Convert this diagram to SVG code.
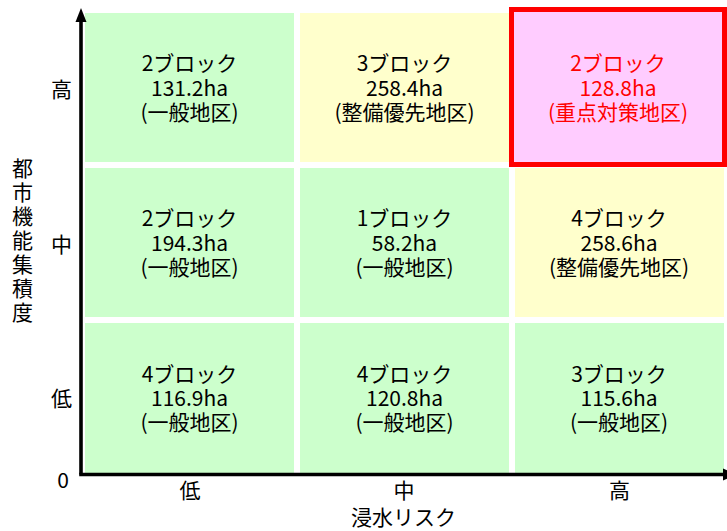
<svg xmlns="http://www.w3.org/2000/svg" width="727" height="531" viewBox="0 0 727 531">
<style>
text{font-family:"Noto Sans CJK JP","Noto Sans",sans-serif;font-size:21px;fill:#000;text-anchor:middle}
.g{fill:#CCFFCC}
.y{fill:#FFFFCC}
.red{fill:#FF0000}
.axis{stroke:#000;stroke-width:3.6;fill:none}
</style>
<rect width="727" height="531" fill="#fff"/>
<g id="cell-1-1"><rect class="g" x="85" y="13" width="209" height="149"/>
<text x="189.5" y="71">2ブロック</text><text x="189.5" y="96">131.2ha</text><text x="189.5" y="120">(一般地区)</text></g>
<g id="cell-1-2"><rect class="y" x="300" y="13" width="209" height="149"/>
<text x="404.5" y="71">3ブロック</text><text x="404.5" y="96">258.4ha</text><text x="404.5" y="120">(整備優先地区)</text></g>
<g id="cell-1-3"><rect x="511.5" y="9.5" width="213" height="155" fill="#FFCCFF" stroke="#FF0000" stroke-width="5"/>
<text class="red" x="618" y="71">2ブロック</text><text class="red" x="618" y="96">128.8ha</text><text class="red" x="618" y="120">(重点対策地区)</text></g>
<g id="cell-2-1"><rect class="g" x="85" y="168" width="209" height="149"/>
<text x="189.5" y="226">2ブロック</text><text x="189.5" y="251">194.3ha</text><text x="189.5" y="275">(一般地区)</text></g>
<g id="cell-2-2"><rect class="g" x="300" y="168" width="209" height="149"/>
<text x="404.5" y="226">1ブロック</text><text x="404.5" y="251">58.2ha</text><text x="404.5" y="275">(一般地区)</text></g>
<g id="cell-2-3"><rect class="y" x="515" y="168" width="209" height="149"/>
<text x="619" y="226">4ブロック</text><text x="619" y="251">258.6ha</text><text x="619" y="275">(整備優先地区)</text></g>
<g id="cell-3-1"><rect class="g" x="85" y="323" width="209" height="150"/>
<text x="189.5" y="382">4ブロック</text><text x="189.5" y="406">116.9ha</text><text x="189.5" y="430">(一般地区)</text></g>
<g id="cell-3-2"><rect class="g" x="300" y="323" width="209" height="150"/>
<text x="404.5" y="382">4ブロック</text><text x="404.5" y="406">120.8ha</text><text x="404.5" y="430">(一般地区)</text></g>
<g id="cell-3-3"><rect class="g" x="515" y="323" width="209" height="150"/>
<text x="619" y="382">3ブロック</text><text x="619" y="406">115.6ha</text><text x="619" y="430">(一般地区)</text></g>
<g id="axes">
<line class="axis" x1="81" y1="20" x2="81" y2="474.5"/>
<line class="axis" x1="79.2" y1="474.5" x2="724" y2="474.5"/>
<polygon points="81,8 75.5,22 86.5,22" fill="#000"/>
<polygon points="737,474.5 723,468.5 723,480.5" fill="#000"/>
</g>
<g id="labels">
<text x="61.5" y="96.5">高</text>
<text x="61.5" y="251.5">中</text>
<text x="61.5" y="406">低</text>
<text x="63" y="488">0</text>
<text x="190" y="498">低</text>
<text x="404" y="498">中</text>
<text x="619.5" y="498">高</text>
<text x="403.5" y="525">浸水リスク</text>
<text x="22.5" y="158" writing-mode="vertical-rl" style="text-anchor:start;letter-spacing:3px">都市機能集積度</text>
</g>
</svg>
